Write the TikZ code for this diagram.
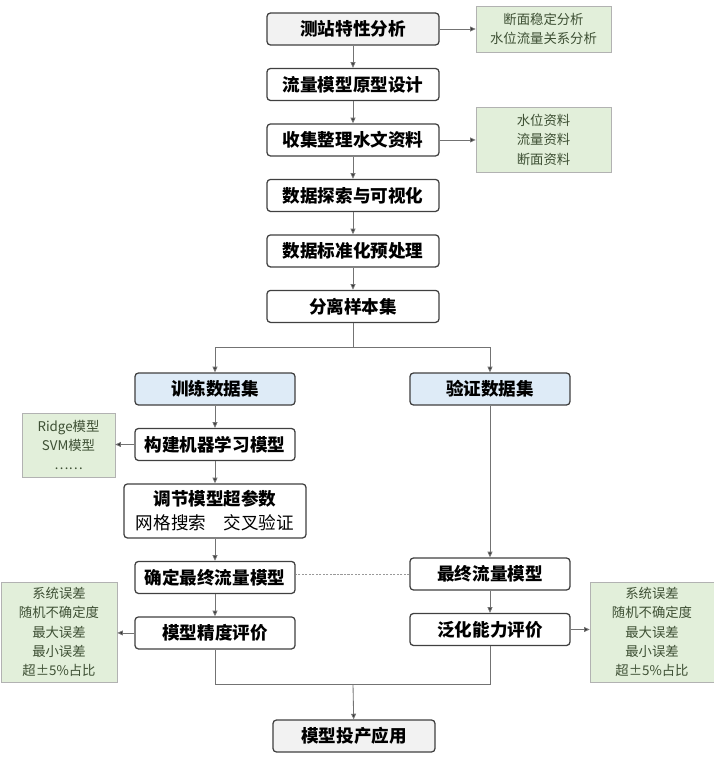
\documentclass[tikz,border=0pt]{standalone}
\usepackage{fontspec}
\newfontfamily\cjk{Noto Sans CJK SC}
\usepackage{tikz}
\usetikzlibrary{arrows.meta, positioning}
\definecolor{boxgray}{RGB}{242,242,242}
\definecolor{boxblue}{RGB}{222,235,247}
\definecolor{notegreen}{RGB}{226,239,218}
\definecolor{notetext}{RGB}{62,80,52}
\tikzset{
  stage/.style={
    rectangle, rounded corners=2.5pt, draw=black!75, line width=0.9pt,
    fill=white, minimum width=4.3cm, minimum height=0.8cm,
    text centered, font=\cjk\bfseries\fontsize{12.5}{17}\selectfont
  },
  terminal/.style={stage, fill=boxgray},
  dataset/.style={stage, fill=boxblue, minimum width=4cm},
  note/.style={
    rectangle, draw=black!30, fill=notegreen, align=center,
    text=notetext, inner sep=2pt,
    font=\cjk\fontsize{9.5}{13.8}\selectfont
  },
  link/.style={draw=black!55, line width=0.6pt},
  arrow/.style={link, -{Triangle[length=4pt,width=3.5pt,fill=black!80]}},
}

\begin{document}
\begin{tikzpicture}[x=0.025cm, y=-0.025cm, node distance=0.555cm]
  \useasboundingbox (0,0) rectangle (714,759);

  % main column
  \node (station) [terminal] at (353,29)  {测站特性分析};
  \node (proto)   [stage, below=of station] {流量模型原型设计};
  \node (collect) [stage, below=of proto]   {收集整理水文资料};
  \node (explore) [stage, below=of collect] {数据探索与可视化};
  \node (norm)    [stage, below=of explore] {数据标准化预处理};
  \node (split)   [stage, below=of norm]    {分离样本集};

  % training branch
  \node (train) [dataset] at (215,389) {训练数据集};
  \node (build) [stage, minimum width=4cm, below=of train] {构建机器学习模型};
  \node (tune)  [stage, minimum width=4.55cm, minimum height=1.35cm, align=center,
                 below=of build] {调节模型超参数\\{\mdseries 网格搜索\quad 交叉验证}};
  \node (final) [stage, minimum width=4cm, below=of tune]  {确定最终流量模型};
  \node (evalL) [stage, minimum width=4cm, below=of final] {模型精度评价};

  % validation branch
  \node (valid)  [dataset] at (490,389) {验证数据集};
  \node (finalR) [stage, minimum width=4cm] at (490,574) {最终流量模型};
  \node (evalR)  [stage, minimum width=4cm, below=of finalR] {泛化能力评价};

  \node (deploy) [terminal, minimum width=4.05cm] at (354,736) {模型投产应用};

  % notes
  \node (noteA)  [note, minimum width=3.375cm, minimum height=1.15cm] at (543.5,29)
    {断面稳定分析\\水位流量关系分析};
  \node (noteB)  [note, minimum width=3.375cm, minimum height=1.625cm] at (543.5,139.5)
    {水位资料\\流量资料\\断面资料};
  \node (noteML) [note, minimum width=2.325cm, minimum height=1.6cm] at (68.5,445)
    {Ridge模型\\SVM模型\\……};
  \node (noteL)  [note, minimum width=2.9cm, minimum height=2.5cm] at (59,632)
    {系统误差\\随机不确定度\\最大误差\\最小误差\\超±5\%占比};
  \node (noteR)  [note, minimum width=3.1cm, minimum height=2.5cm] at (652,632)
    {系统误差\\随机不确定度\\最大误差\\最小误差\\超±5\%占比};

  \draw [arrow] (station) -- (proto);
  \draw [arrow] (proto)   -- (collect);
  \draw [arrow] (collect) -- (explore);
  \draw [arrow] (explore) -- (norm);
  \draw [arrow] (norm)    -- (split);
  \draw [arrow] (station.east) -- (station.east -| noteA.west);
  \draw [arrow] (collect.east) -- (collect.east -| noteB.west);

  \coordinate (fork) at (353,347);
  \draw [link]  (split) -- (fork);
  \draw [arrow] (fork) -| (train);
  \draw [arrow] (fork) -| (valid);

  \draw [arrow] (train) -- (build);
  \draw [arrow] (build) -- (tune);
  \draw [arrow] (tune)  -- (final);
  \draw [arrow] (final) -- (evalL);
  \draw [arrow] (build.west) -- (build.west -| noteML.east);
  \draw [arrow] (evalL.west) -- (evalL.west -| noteL.east);

  \draw [arrow] (valid)  -- (finalR);
  \draw [arrow] (finalR) -- (evalR);
  \draw [arrow] (evalR.east) -- (evalR.east -| noteR.west);
  \draw [link, draw=black!40, dash pattern=on 1.5pt off 1pt]
    (finalR.west) -- (finalR.west -| final.east);

  \coordinate (merge) at (353,684);
  \draw [link]  (evalL) |- (merge);
  \draw [link]  (evalR) |- (merge);
  \draw [arrow] (merge) -- (deploy);
\end{tikzpicture}
\end{document}
